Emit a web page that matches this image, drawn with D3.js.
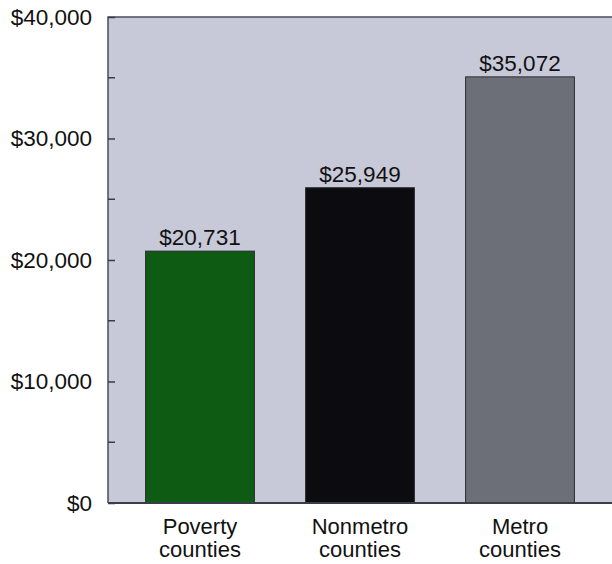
<!DOCTYPE html>
<html>
<head>
<meta charset="utf-8">
<script src="https://cdn.jsdelivr.net/npm/d3@7"></script>
<style>
  html, body { margin: 0; padding: 0; background: #ffffff; }
  svg { display: block; }
  text { font-family: "Liberation Sans", Arial, sans-serif; fill: #111; }
</style>
</head>
<body>
<svg id="chart" width="612" height="564"></svg>
<script>
// Per capita income by county type
const categories = ["Poverty\ncounties", "Nonmetro\ncounties", "Metro\ncounties"];
const incomes = [20731, 25949, 35072];
const barColors = ["#0e5c14", "#0b0b10", "#6c6f77"];
const yTicks = [0, 10000, 20000, 30000, 40000];
const yMinorTicks = [5000, 15000, 25000, 35000];

const plot = { left: 108, right: 612, top: 17, bottom: 503 };
const fontSize = "22.5px";

const svg = d3.select("#chart");

const x = d3.scaleBand()
  .domain(categories)
  .range([plot.left, plot.right])
  .paddingInner(0.32)
  .paddingOuter(0.235);

const y = d3.scaleLinear()
  .domain([0, 40000])
  .range([plot.bottom, plot.top]);

const money = d3.format("$,");

// plot background panel
svg.append("rect")
  .attr("x", plot.left)
  .attr("y", plot.top)
  .attr("width", plot.right - plot.left)
  .attr("height", plot.bottom - plot.top)
  .attr("fill", "#c8c9d8");

// panel frame: top and left edges
svg.append("path")
  .attr("d", `M${plot.right},${plot.top}H${plot.left}V${plot.bottom}`)
  .attr("fill", "none")
  .attr("stroke", "#4a4c5c")
  .attr("stroke-width", 1.5);

// y axis with inward ticks
const yAxis = d3.axisLeft(y)
  .tickValues(yTicks)
  .tickFormat(money)
  .tickSize(-7)
  .tickPadding(16);

const gy = svg.append("g")
  .attr("transform", `translate(${plot.left},0)`)
  .call(yAxis);
gy.select(".domain").remove();
gy.selectAll(".tick line").attr("stroke", "#3a3c48").attr("stroke-width", 1.5);
gy.selectAll(".tick text")
  .style("font-size", fontSize)
  .attr("fill", "#111");

// minor ticks
svg.append("g")
  .selectAll("line")
  .data(yMinorTicks)
  .join("line")
  .attr("x1", plot.left)
  .attr("x2", plot.left + 7)
  .attr("y1", d => y(d))
  .attr("y2", d => y(d))
  .attr("stroke", "#3a3c48")
  .attr("stroke-width", 1.5);

// bars
svg.append("g")
  .selectAll("rect")
  .data(incomes)
  .join("rect")
  .attr("x", (d, i) => x(categories[i]))
  .attr("y", d => y(d))
  .attr("width", x.bandwidth())
  .attr("height", d => y(0) - y(d))
  .attr("fill", (d, i) => barColors[i])
  .attr("stroke", "#2a2c30")
  .attr("stroke-width", 1);

// value labels
svg.append("g")
  .selectAll("text")
  .data(incomes)
  .join("text")
  .attr("x", (d, i) => x(categories[i]) + x.bandwidth() / 2)
  .attr("y", d => y(d) - 6)
  .attr("text-anchor", "middle")
  .style("font-size", fontSize)
  .attr("fill", "#1a1a22")
  .text(d => money(d));

// baseline
svg.append("line")
  .attr("x1", plot.left)
  .attr("x2", plot.right)
  .attr("y1", plot.bottom)
  .attr("y2", plot.bottom)
  .attr("stroke", "#3a3c48")
  .attr("stroke-width", 2);

// category labels (two lines each, one text element per line)
const xAxis = d3.axisBottom(x).tickSize(0).tickFormat("");
const gx = svg.append("g")
  .attr("transform", `translate(0,${plot.bottom})`)
  .call(xAxis);
gx.select(".domain").remove();
gx.selectAll(".tick").each(function(d) {
  const g = d3.select(this);
  d.split("\n").forEach((line, i) => {
    g.append("text")
      .attr("text-anchor", "middle")
      .attr("x", 0)
      .attr("y", 31 + i * 23)
      .style("font-size", "22px")
      .attr("fill", "#111")
      .text(line);
  });
});
</script>
</body>
</html>
